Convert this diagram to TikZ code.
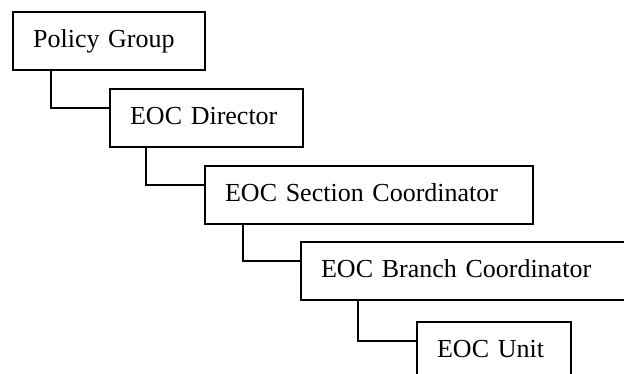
\documentclass[tikz,border=0pt]{standalone}
\usepackage{fontspec}
\setmainfont{Liberation Serif}
\usepackage{tikz}
\usetikzlibrary{positioning, calc}

\begin{document}
\begin{tikzpicture}[x=1pt,y=-1pt,
  box/.style={draw,line width=2.2pt,anchor=north west,align=left,inner xsep=20pt,
    minimum height=58pt,text height=18pt,text depth=6pt,font=\fontsize{26}{30}\selectfont},
  link/.style={line width=2.2pt}]
\useasboundingbox (0,0) rectangle (624,373);
\clip (0,0) rectangle (624,373);
\node[box,text width=152pt] (policy) at (12,11) {Policy Group};
\node[box,text width=153pt] (director) at (109,88) {EOC Director};
\node[box,text width=288pt] (section) at (204,165) {EOC Section Coordinator};
\node[box,text width=300pt] (branch) at (300,241) {EOC Branch Coordinator};
\node[box,text width=114pt] (unit) at (416,321) {EOC Unit};
\draw[link] ([xshift=39pt]policy.south west) |- ([yshift=10pt]director.west);
\draw[link] ([xshift=37pt]director.south west) |- ([yshift=10pt]section.west);
\draw[link] ([xshift=39pt]section.south west) |- ([yshift=10pt]branch.west);
\draw[link] ([xshift=58pt]branch.south west) |- ([yshift=10pt]unit.west);
\end{tikzpicture}
\end{document}
